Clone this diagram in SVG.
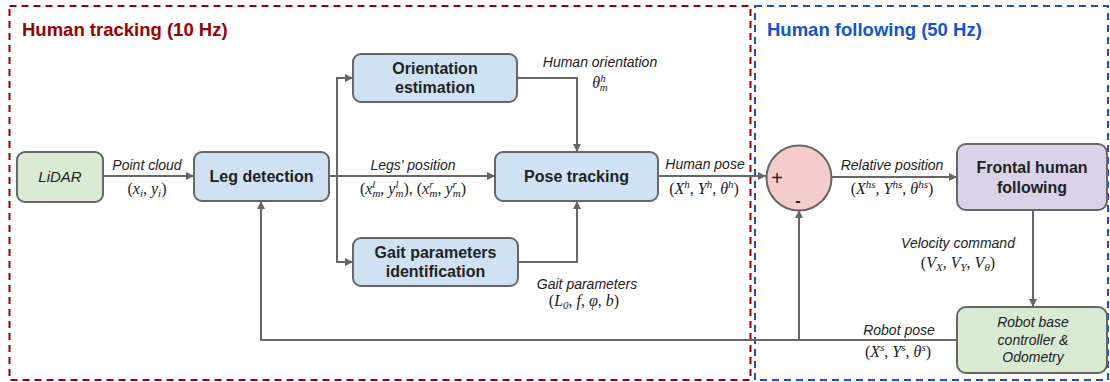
<svg xmlns="http://www.w3.org/2000/svg" width="1110" height="382" viewBox="0 0 1110 382">
<style>
.node{stroke:#666;stroke-width:2}
.blue{fill:#cfe2f3}
.green{fill:#d9ead3}
.purple{fill:#d9d2e9}
.pink{fill:#f4cccc}
.nt{font-family:"Liberation Sans",Arial,sans-serif;font-size:16px;font-weight:bold;fill:#222;text-anchor:middle}
.it{font-family:"Liberation Sans",Arial,sans-serif;font-size:14px;font-style:italic;fill:#222;text-anchor:middle}
.m{font-family:"Liberation Serif","Times New Roman",serif;font-size:16px;fill:#222;text-anchor:middle}
.v{font-style:italic}
.s{font-size:11px;font-style:italic}
.conn{fill:none;stroke:#666;stroke-width:2}
.title{font-family:"Liberation Sans",Arial,sans-serif;font-size:18.5px;font-weight:bold}
</style>
<defs>
<marker id="arr" markerUnits="userSpaceOnUse" markerWidth="9" markerHeight="9" refX="8" refY="4.5" orient="auto">
<path d="M0,0.5 L8,4.5 L0,8.5 z" fill="#666"/>
</marker>
</defs>
<rect width="1110" height="382" fill="#fff"/>
<g id="regions">
<rect x="9.5" y="6" width="741" height="374" fill="none" stroke="#990000" stroke-width="2" stroke-dasharray="7,5"/>
<rect x="755" y="6" width="353" height="374" fill="none" stroke="#1155cc" stroke-width="2" stroke-dasharray="7,5"/>
<text class="title" x="22" y="36" fill="#990000">Human tracking (10 Hz)</text>
<text class="title" x="767" y="36" fill="#1155cc">Human following (50 Hz)</text>
</g>
<g id="connectors">
<path class="conn" d="M103,176 H194" marker-end="url(#arr)"/>
<path class="conn" d="M329,176 H495" marker-end="url(#arr)"/>
<path class="conn" d="M337,176 V78 H353" marker-end="url(#arr)"/>
<path class="conn" d="M337,176 V262 H353" marker-end="url(#arr)"/>
<path class="conn" d="M517,78 H577 V152" marker-end="url(#arr)"/>
<path class="conn" d="M518,262 H577 V201" marker-end="url(#arr)"/>
<path class="conn" d="M658,176 H766" marker-end="url(#arr)"/>
<path class="conn" d="M832,177 H957" marker-end="url(#arr)"/>
<path class="conn" d="M1033,210 V307" marker-end="url(#arr)"/>
<path class="conn" d="M957,340 H261 V201" marker-end="url(#arr)"/>
<path class="conn" d="M799,340 V210" marker-end="url(#arr)"/>
</g>
<g id="labels">
<text class="it" x="147" y="170">Point cloud</text>
<text class="m" x="147" y="194">(<tspan class="v">x</tspan><tspan class="s" dy="3">i</tspan><tspan dy="-3">, </tspan><tspan class="v">y</tspan><tspan class="s" dy="3">i</tspan><tspan dy="-3">)</tspan></text>
<text class="it" x="413" y="170">Legs' position</text>
<text class="m" x="413" y="194">(<tspan class="v">x</tspan><tspan class="s" dy="-6">l</tspan><tspan class="s" dx="-3" dy="9">m</tspan><tspan dy="-3">, </tspan><tspan class="v">y</tspan><tspan class="s" dy="-6">l</tspan><tspan class="s" dx="-3" dy="9">m</tspan><tspan dy="-3">), (</tspan><tspan class="v">x</tspan><tspan class="s" dy="-6">r</tspan><tspan class="s" dx="-4" dy="9">m</tspan><tspan dy="-3">, </tspan><tspan class="v">y</tspan><tspan class="s" dy="-6">r</tspan><tspan class="s" dx="-4" dy="9">m</tspan><tspan dy="-3">)</tspan></text>
<text class="it" x="600" y="67">Human orientation</text>
<text class="m" x="600" y="88"><tspan class="v">θ</tspan><tspan class="s" dy="-6">h</tspan><tspan class="s" dx="-6" dy="9">m</tspan></text>
<text class="it" x="705" y="169">Human pose</text>
<text class="m" x="704" y="194">(<tspan class="v">X</tspan><tspan class="s" dy="-6">h</tspan><tspan dy="6">, </tspan><tspan class="v">Y</tspan><tspan class="s" dy="-6">h</tspan><tspan dy="6">, </tspan><tspan class="v">θ</tspan><tspan class="s" dy="-6">h</tspan><tspan dy="6">)</tspan></text>
<text class="it" x="892" y="170">Relative position</text>
<text class="m" x="892" y="194">(<tspan class="v">X</tspan><tspan class="s" dy="-6">hs</tspan><tspan dy="6">, </tspan><tspan class="v">Y</tspan><tspan class="s" dy="-6">hs</tspan><tspan dy="6">, </tspan><tspan class="v">θ</tspan><tspan class="s" dy="-6">hs</tspan><tspan dy="6">)</tspan></text>
<text class="it" x="958" y="248">Velocity command</text>
<text class="m" x="958" y="268">(<tspan class="v">V</tspan><tspan class="s" dy="3">X</tspan><tspan dy="-3">, </tspan><tspan class="v">V</tspan><tspan class="s" dy="3">Y</tspan><tspan dy="-3">, </tspan><tspan class="v">V</tspan><tspan class="s" dy="3">θ</tspan><tspan dy="-3">)</tspan></text>
<text class="it" x="899" y="335">Robot pose</text>
<text class="m" x="898" y="357">(<tspan class="v">X</tspan><tspan class="s" dy="-6">s</tspan><tspan dy="6">, </tspan><tspan class="v">Y</tspan><tspan class="s" dy="-6">s</tspan><tspan dy="6">, </tspan><tspan class="v">θ</tspan><tspan class="s" dy="-6">s</tspan><tspan dy="6">)</tspan></text>
<text class="it" x="587" y="289">Gait parameters</text>
<text class="m" x="584" y="306">(<tspan class="v">L</tspan><tspan class="s" dy="3">0</tspan><tspan dy="-3">, </tspan><tspan class="v">f</tspan>, <tspan class="v">φ</tspan>, <tspan class="v">b</tspan>)</text>
</g>
<g id="lidar">
<rect class="node green" x="17" y="152" width="86" height="50" rx="8"/>
<text class="it" x="60" y="182" style="font-size:15px">LiDAR</text>
</g>
<g id="leg-detection">
<rect class="node blue" x="194" y="152" width="135" height="49" rx="8"/>
<text class="nt" x="261.5" y="182">Leg detection</text>
</g>
<g id="orientation-estimation">
<rect class="node blue" x="353" y="54" width="164" height="48" rx="8"/>
<text class="nt" x="435" y="74">Orientation</text>
<text class="nt" x="435" y="93">estimation</text>
</g>
<g id="gait-identification">
<rect class="node blue" x="353" y="238" width="165" height="48" rx="8"/>
<text class="nt" x="435.5" y="258">Gait parameters</text>
<text class="nt" x="435.5" y="277">identification</text>
</g>
<g id="pose-tracking">
<rect class="node blue" x="495" y="152" width="163" height="49" rx="8"/>
<text class="nt" x="576.5" y="182">Pose tracking</text>
</g>
<g id="comparator">
<circle class="node pink" cx="799" cy="178" r="32.5"/>
<text x="777" y="185" style="font-family:'Liberation Sans',Arial,sans-serif;font-size:20px;fill:#222;text-anchor:middle">+</text>
<text x="798" y="206" style="font-family:'Liberation Sans',Arial,sans-serif;font-size:16px;font-weight:bold;fill:#222;text-anchor:middle">-</text>
</g>
<g id="frontal-following">
<rect class="node purple" x="957" y="144" width="150" height="66" rx="9"/>
<text class="nt" x="1032" y="173">Frontal human</text>
<text class="nt" x="1032" y="193">following</text>
</g>
<g id="robot-base">
<rect class="node green" x="957" y="307" width="150" height="66" rx="9"/>
<text class="it" x="1033" y="327">Robot base</text>
<text class="it" x="1033" y="345">controller &amp;</text>
<text class="it" x="1033" y="362">Odometry</text>
</g>
</svg>
